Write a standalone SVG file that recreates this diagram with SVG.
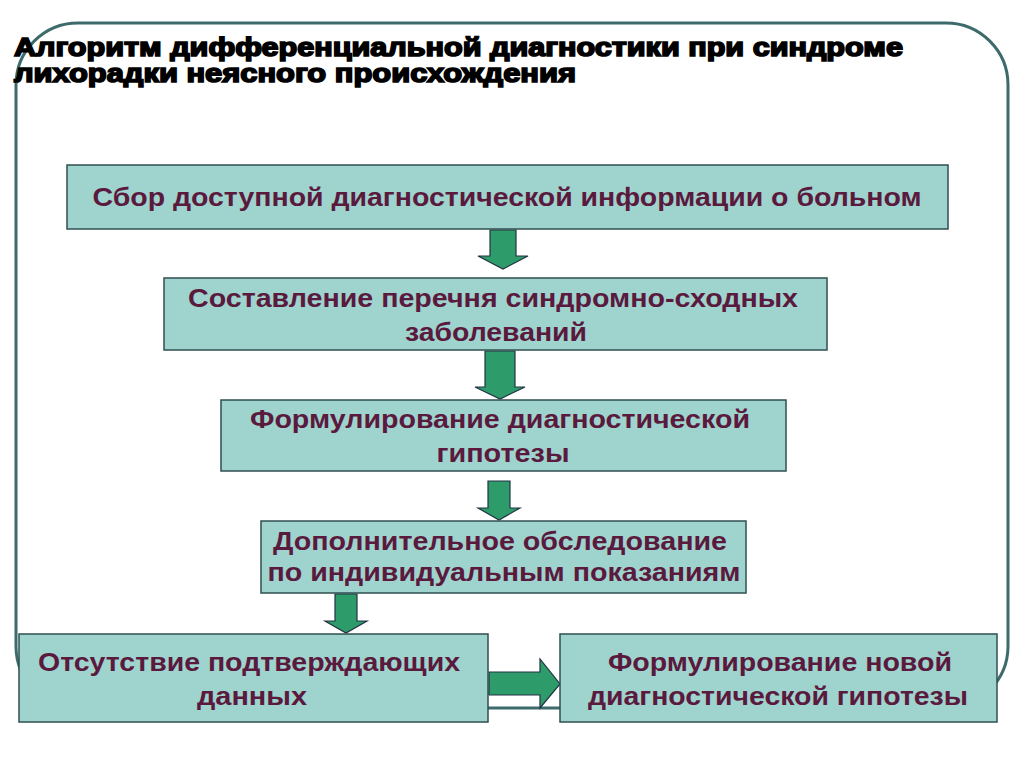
<svg xmlns="http://www.w3.org/2000/svg" width="1024" height="767" viewBox="0 0 1024 767">
<style>
.box{fill:#9fd3cd;stroke:#2f4f4f;stroke-width:1.5}
.t{font-family:"Liberation Sans",Arial,sans-serif;font-weight:bold;font-size:25px;fill:#5a1a3e;text-anchor:middle}
.arr{fill:#2e9c6a;stroke:#234;stroke-width:1.2}
.title{font-family:"Liberation Sans",Arial,sans-serif;font-weight:bold;font-size:25px;fill:#000;stroke:#000;stroke-width:1.6}
</style>
<rect width="1024" height="767" fill="#fff"/>
<rect x="16" y="23" width="992" height="685" rx="62" fill="none" stroke="#3d6a6a" stroke-width="3"/>
<g id="title">
<text class="title" x="14" y="56" textLength="889" lengthAdjust="spacingAndGlyphs">Алгоритм дифференциальной диагностики при синдроме</text>
<text class="title" x="14" y="82" textLength="562" lengthAdjust="spacingAndGlyphs">лихорадки неясного происхождения</text>
</g>
<g id="connectors">
<path class="arr" d="M490,230H516V256H528L503,269L478,256H490Z"/>
<path class="arr" d="M485,351H515V387H525L500,399L475,387H485Z"/>
<path class="arr" d="M488,481H510V508H520L499,520L478,508H488Z"/>
<path class="arr" d="M335,594H357V621H367L346,633L325,621H335Z"/>
<path class="arr" d="M489,672H540V659L560,684L540,708V695H489Z"/>
</g>
<g id="n1"><rect class="box" x="67" y="165" width="881" height="64"/><text class="t" x="507" y="206" textLength="829" lengthAdjust="spacingAndGlyphs">Сбор доступной диагностической информации о больном</text></g>
<g id="n2"><rect class="box" x="164" y="278" width="663" height="72"/><text class="t" x="493" y="307" textLength="610" lengthAdjust="spacingAndGlyphs">Составление перечня синдромно-сходных</text><text class="t" x="496" y="341" textLength="182" lengthAdjust="spacingAndGlyphs">заболеваний</text></g>
<g id="n3"><rect class="box" x="221" y="400" width="565" height="71"/><text class="t" x="500" y="428" textLength="500" lengthAdjust="spacingAndGlyphs">Формулирование диагностической</text><text class="t" x="503" y="462" textLength="133" lengthAdjust="spacingAndGlyphs">гипотезы</text></g>
<g id="n4"><rect class="box" x="261" y="521" width="485" height="72"/><text class="t" x="500" y="550" textLength="454" lengthAdjust="spacingAndGlyphs">Дополнительное обследование</text><text class="t" x="504" y="581" textLength="473" lengthAdjust="spacingAndGlyphs">по индивидуальным показаниям</text></g>
<g id="n5"><rect class="box" x="19" y="634" width="469" height="88"/><text class="t" x="249" y="671" textLength="422" lengthAdjust="spacingAndGlyphs">Отсутствие подтверждающих</text><text class="t" x="252" y="705" textLength="110" lengthAdjust="spacingAndGlyphs">данных</text></g>
<g id="n6"><rect class="box" x="560" y="634" width="437" height="88"/><text class="t" x="780" y="671" textLength="344" lengthAdjust="spacingAndGlyphs">Формулирование новой</text><text class="t" x="778" y="705" textLength="380" lengthAdjust="spacingAndGlyphs">диагностической гипотезы</text></g>
</svg>
